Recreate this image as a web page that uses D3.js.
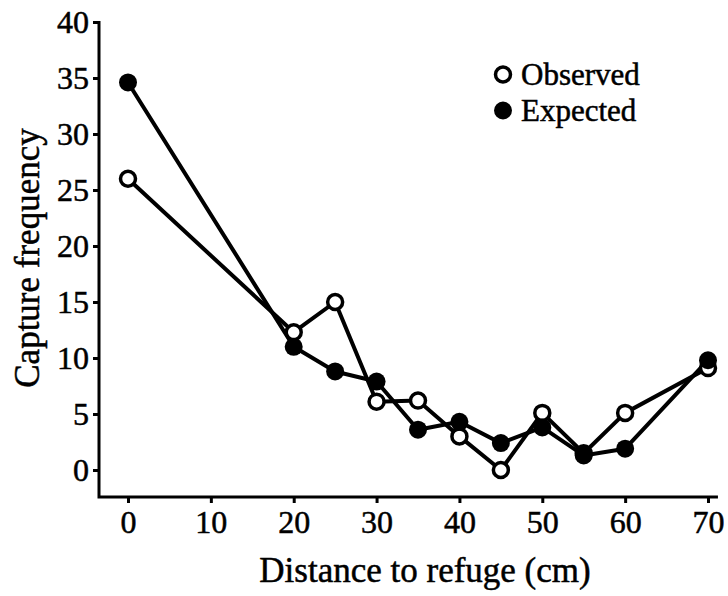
<!DOCTYPE html>
<html>
<head>
<meta charset="utf-8">
<script src="https://cdn.jsdelivr.net/npm/d3@7"></script>
<style>
  html, body { margin: 0; padding: 0; background: #fff; }
  svg { display: block; }
  text { font-family: "Liberation Serif", "Times New Roman", serif; fill: #000; stroke: #000; stroke-width: 0.5px; }
</style>
</head>
<body>
<svg id="chart" width="728" height="596"></svg>
<script>
const distances = [0, 20, 25, 30, 35, 40, 45, 50, 55, 60, 70];
const observed  = [26.0, 12.3, 15.0, 6.1, 6.2, 3.0, 0.0, 5.1, 1.5, 5.1, 9.1];
const expected  = [34.6, 11.0, 8.8, 7.9, 3.6, 4.3, 2.4, 3.8, 1.3, 1.9, 9.8];
const xTicks = [0, 10, 20, 30, 40, 50, 60, 70];
const yTicks = [0, 5, 10, 15, 20, 25, 30, 35, 40];
const seriesNames = ["Observed", "Expected"];

const svg = d3.select("#chart");

const x = d3.scaleLinear().domain([0, 70]).range([128, 708]);
const y = d3.scaleLinear().domain([0, 40]).range([470, 22]);
const xAxisY = 497, yAxisX = 99;

// axis lines
svg.append("path")
  .attr("d", `M${yAxisX},${y(40) - 1}V${xAxisY}H${x(71.2)}`)
  .attr("fill", "none").attr("stroke", "#000").attr("stroke-width", 3);

// y axis ticks
const yAxis = d3.axisLeft(y).tickValues(yTicks).tickSize(6).tickPadding(4).tickFormat(d3.format("d"));
const gy = svg.append("g").attr("transform", `translate(${yAxisX},0)`).call(yAxis);
gy.select(".domain").remove();
gy.selectAll(".tick line").attr("stroke", "#000").attr("stroke-width", 3);
gy.selectAll(".tick text").attr("font-size", 32).attr("font-family", "Liberation Serif").attr("dy", "0.34em").attr("fill", "#000");

// x axis ticks
const xAxis = d3.axisBottom(x).tickValues(xTicks).tickSize(6).tickPadding(7).tickFormat(d3.format("d"));
const gx = svg.append("g").attr("transform", `translate(0,${xAxisY})`).call(xAxis);
gx.select(".domain").remove();
gx.selectAll(".tick line").attr("stroke", "#000").attr("stroke-width", 3);
gx.selectAll(".tick text").attr("font-size", 32).attr("font-family", "Liberation Serif").attr("fill", "#000");

// axis titles
svg.append("text").attr("x", (258 + 592) / 2).attr("y", 582)
  .attr("text-anchor", "middle").attr("font-size", 35).text("Distance to refuge (cm)");
svg.append("text").attr("transform", "translate(39,258) rotate(-90)")
  .attr("text-anchor", "middle").attr("font-size", 35).text("Capture frequency");

const line = d3.line().x(d => x(d[0])).y(d => y(d[1]));
const obsPts = distances.map((d, i) => [d, observed[i]]);
const expPts = distances.map((d, i) => [d, expected[i]]);

svg.append("path").datum(obsPts).attr("d", line)
  .attr("fill", "none").attr("stroke", "#000").attr("stroke-width", 4).attr("stroke-linejoin", "round");
svg.append("path").datum(expPts).attr("d", line)
  .attr("fill", "none").attr("stroke", "#000").attr("stroke-width", 4).attr("stroke-linejoin", "round");

svg.append("g").selectAll("circle").data(obsPts).join("circle")
  .attr("cx", d => x(d[0])).attr("cy", d => y(d[1])).attr("r", 7.5)
  .attr("fill", "#fff").attr("stroke", "#000").attr("stroke-width", 3.5);
svg.append("g").selectAll("circle").data(expPts).join("circle")
  .attr("cx", d => x(d[0])).attr("cy", d => y(d[1])).attr("r", 9)
  .attr("fill", "#000");

// legend
const lg = svg.append("g");
lg.append("circle").attr("cx", 503).attr("cy", 74.5).attr("r", 7.5)
  .attr("fill", "#fff").attr("stroke", "#000").attr("stroke-width", 3.5);
lg.append("circle").attr("cx", 503).attr("cy", 110.5).attr("r", 9).attr("fill", "#000");
lg.append("text").attr("x", 521).attr("y", 85).attr("font-size", 31).text(seriesNames[0]);
lg.append("text").attr("x", 521).attr("y", 121).attr("font-size", 31).text(seriesNames[1]);
</script>
</body>
</html>
